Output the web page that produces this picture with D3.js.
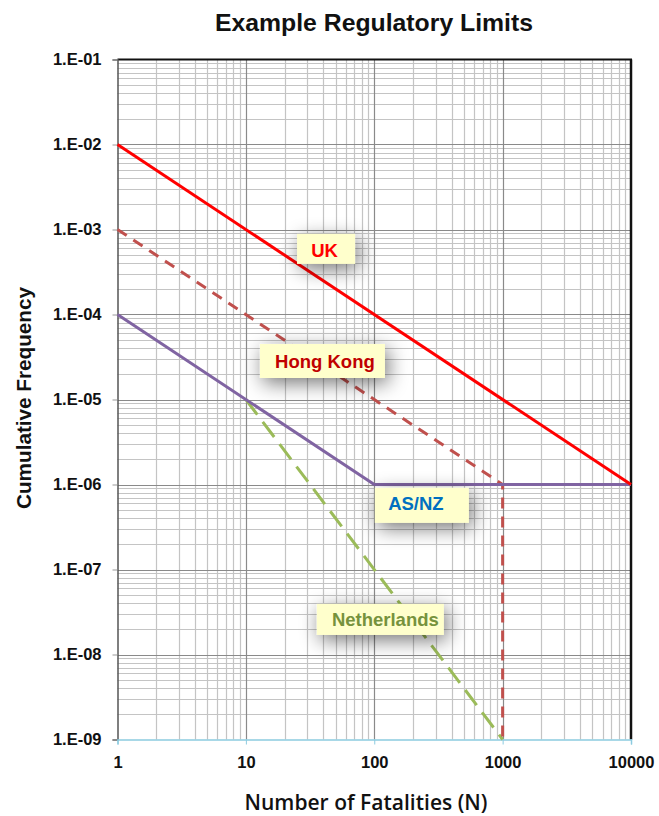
<!DOCTYPE html>
<html>
<head>
<meta charset="utf-8">
<script src="https://cdn.jsdelivr.net/npm/d3@7"></script>
<style>
  html, body { margin: 0; padding: 0; background: #fff; }
  svg { display: block; }
</style>
</head>
<body>
<svg id="chart" width="659" height="816"></svg>
<script>
// Tick labels
const xTickValues = [1, 10, 100, 1000, 10000];
const xTickLabels = ["1", "10", "100", "1000", "10000"];
const yTickValues = [1e-1, 1e-2, 1e-3, 1e-4, 1e-5, 1e-6, 1e-7, 1e-8, 1e-9];
const yTickLabels = ["1.E-01", "1.E-02", "1.E-03", "1.E-04", "1.E-05", "1.E-06", "1.E-07", "1.E-08", "1.E-09"];

// Criterion lines: [N, frequency] vertices
const ukLine = [[1, 1e-2], [10000, 1e-6]];
const hongKongLine = [[1, 1e-3], [1000, 1e-6], [1000, 1e-9]];
const asnzLine = [[1, 1e-4], [100, 1e-6], [10000, 1e-6]];
const netherlandsLine = [[10, 1e-5], [1000, 1e-9]];

// Label text centres: [N, frequency]
const labelNames = ["UK", "Hong Kong", "AS/NZ", "Netherlands"];
const labelPos = [[41, 5.6e-4], [41.3, 2.8e-5], [211, 6.0e-7], [122, 2.55e-8]];

const svg = d3.select("#chart");
const L = 117.5, R = 631, T = 59.5, B = 739.5;
const FONT = "Arial, 'Liberation Sans', sans-serif";

const x = d3.scaleLog().domain([1, 10000]).range([L, R]);
const y = d3.scaleLog().domain([1e-9, 1e-1]).range([B, T]);

const defs = svg.append("defs");
const f = defs.append("filter").attr("id", "glow")
  .attr("x", "-60%").attr("y", "-120%").attr("width", "220%").attr("height", "340%");
f.append("feGaussianBlur").attr("in", "SourceAlpha").attr("stdDeviation", 10).attr("result", "b");
f.append("feOffset").attr("in", "b").attr("dx", 3).attr("dy", 5).attr("result", "o");
f.append("feComponentTransfer").attr("in", "o").attr("result", "s")
  .append("feFuncA").attr("type", "linear").attr("slope", 0.55);
const m = f.append("feMerge");
m.append("feMergeNode").attr("in", "s");
m.append("feMergeNode").attr("in", "SourceGraphic");

// Grid: minor and major lines per decade
const g = svg.append("g");
const xMinor = [], yMinor = [];
for (let d = 0; d < 4; d++) for (let k = 2; k <= 9; k++) xMinor.push(k * Math.pow(10, d));
for (let d = -9; d < -1; d++) for (let k = 2; k <= 9; k++) yMinor.push(k * Math.pow(10, d));

g.selectAll(".xm").data(xMinor).join("line")
  .attr("x1", d => Math.round(x(d)) + 0.5).attr("x2", d => Math.round(x(d)) + 0.5)
  .attr("y1", T).attr("y2", B).attr("stroke", "#c4c4c4").attr("stroke-width", 1.2);
g.selectAll(".ym").data(yMinor).join("line")
  .attr("y1", d => Math.round(y(d)) + 0.5).attr("y2", d => Math.round(y(d)) + 0.5)
  .attr("x1", L).attr("x2", R).attr("stroke", "#c4c4c4").attr("stroke-width", 1.2);
g.selectAll(".xM").data(xTickValues.slice(1, -1)).join("line")
  .attr("x1", d => Math.round(x(d)) + 0.5).attr("x2", d => Math.round(x(d)) + 0.5)
  .attr("y1", T).attr("y2", B).attr("stroke", "#8a8a8a").attr("stroke-width", 1.2);
g.selectAll(".yM").data(yTickValues.slice(1, -1)).join("line")
  .attr("y1", d => Math.round(y(d)) + 0.5).attr("y2", d => Math.round(y(d)) + 0.5)
  .attr("x1", L).attr("x2", R).attr("stroke", "#8a8a8a").attr("stroke-width", 1.2);

// Plot frame
svg.append("line").attr("x1", L).attr("x2", R + 1).attr("y1", T).attr("y2", T).attr("stroke", "#111").attr("stroke-width", 2);
svg.append("line").attr("x1", R).attr("x2", R).attr("y1", T).attr("y2", B).attr("stroke", "#111").attr("stroke-width", 2.5);

// Axes
const yAxis = d3.axisLeft(y).tickValues(yTickValues)
  .tickFormat((d, i) => yTickLabels[i]).tickSize(5).tickPadding(11);
const ya = svg.append("g").attr("transform", `translate(${L},0)`).call(yAxis);
ya.select(".domain").attr("stroke", "#555").attr("stroke-width", 1.5);
ya.selectAll(".tick line").attr("stroke", "#999");
ya.selectAll("text").attr("font-family", FONT)
  .attr("font-size", 16.5).attr("font-weight", "bold").attr("fill", "#111").attr("dy", "0.33em");

const xAxis = d3.axisBottom(x).tickValues(xTickValues)
  .tickFormat((d, i) => xTickLabels[i]).tickSize(5).tickPadding(12);
const xa = svg.append("g").attr("transform", `translate(0,${B})`).call(xAxis);
xa.select(".domain").attr("stroke", "#8ccbe0").attr("stroke-width", 1.5);
xa.selectAll(".tick line").attr("stroke", "#8ccbe0");
xa.selectAll("text").attr("font-family", FONT)
  .attr("font-size", 16.5).attr("font-weight", "bold").attr("fill", "#111");

// Criterion lines
const line = d3.line().x(d => x(d[0])).y(d => y(d[1]));
svg.append("path").datum(netherlandsLine).attr("d", line).attr("fill", "none")
  .attr("stroke", "#9bbb59").attr("stroke-width", 3).attr("stroke-dasharray", "19,9");
svg.append("path").datum(hongKongLine).attr("d", line).attr("fill", "none")
  .attr("stroke", "#c0504d").attr("stroke-width", 3).attr("stroke-dasharray", "11,8");
svg.append("path").datum(asnzLine).attr("d", line).attr("fill", "none")
  .attr("stroke", "#8064a2").attr("stroke-width", 3);
svg.append("path").datum(ukLine).attr("d", line).attr("fill", "none")
  .attr("stroke", "#ff0000").attr("stroke-width", 3);

// Labels: yellow callout boxes around each name (box edges relative to text centre)
const labelColors = ["#ff0000", "#c00000", "#0070c0", "#76923c"];
const boxEdges = [[-27.5, 30.5, -17, 13], [-65, 60, -17.5, 16.5], [-41, 53, -15.5, 19.5], [-68.5, 58.5, -16, 15]];
labelNames.forEach((name, i) => {
  const cx = x(labelPos[i][0]), cy = y(labelPos[i][1]);
  const [l, r, t, b] = boxEdges[i];
  svg.append("rect").attr("x", cx + l).attr("y", cy + t)
    .attr("width", r - l).attr("height", b - t)
    .attr("fill", "#ffffcc").attr("filter", "url(#glow)");
  svg.append("text").attr("x", cx).attr("y", cy + 6.5)
    .attr("text-anchor", "middle").attr("font-family", FONT)
    .attr("font-size", 18.5).attr("font-weight", "bold").attr("fill", labelColors[i]).text(name);
});

// Titles
svg.append("text").attr("x", 374).attr("y", 31).attr("text-anchor", "middle")
  .attr("font-family", FONT).attr("font-size", 24)
  .attr("font-weight", "bold").attr("fill", "#111")
  .attr("textLength", 318).attr("lengthAdjust", "spacingAndGlyphs")
  .text("Example Regulatory Limits");
svg.append("text").attr("x", 366).attr("y", 810).attr("text-anchor", "middle")
  .attr("font-family", "'Open Sans', sans-serif").attr("font-size", 21)
  .attr("font-weight", 600).attr("fill", "#111")
  .attr("textLength", 243).attr("lengthAdjust", "spacingAndGlyphs")
  .text("Number of Fatalities (N)");
svg.append("text").attr("transform", "translate(31,398) rotate(-90)").attr("text-anchor", "middle")
  .attr("font-family", FONT).attr("font-size", 20)
  .attr("font-weight", "bold").attr("fill", "#111")
  .attr("textLength", 222).attr("lengthAdjust", "spacingAndGlyphs")
  .text("Cumulative Frequency");
</script>
</body>
</html>
